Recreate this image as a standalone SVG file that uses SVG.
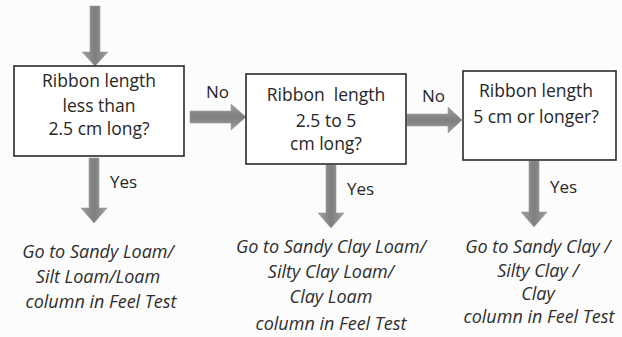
<svg xmlns="http://www.w3.org/2000/svg" width="622" height="337" viewBox="0 0 622 337">
<style>
  .box { fill: #ffffff; stroke: #2a2a2a; stroke-width: 1.6; }
  .t { font-family: "Open Sans", "Liberation Sans", sans-serif; font-size: 17.5px; fill: #262626; text-anchor: middle; }
  .lbl { font-family: "Open Sans", "Liberation Sans", sans-serif; font-size: 17px; fill: #262626; }
  .res { font-family: "Open Sans", "Liberation Sans", sans-serif; font-size: 18px; font-style: italic; fill: #2e2e2e; text-anchor: middle; }
  .arr { fill: url(#g); stroke: #9a9a9a; stroke-width: 0.6; }
  .arrh { fill: url(#gh); stroke: #9a9a9a; stroke-width: 0.6; }
</style>
<defs>
  <linearGradient id="g" x1="0" y1="0" x2="1" y2="0">
    <stop offset="0" stop-color="#a0a0a0"/>
    <stop offset="0.5" stop-color="#7e7e7e"/>
    <stop offset="1" stop-color="#a0a0a0"/>
  </linearGradient>
  <linearGradient id="gh" x1="0" y1="0" x2="0" y2="1">
    <stop offset="0" stop-color="#a0a0a0"/>
    <stop offset="0.5" stop-color="#7e7e7e"/>
    <stop offset="1" stop-color="#a0a0a0"/>
  </linearGradient>
</defs>
<rect width="622" height="337" fill="#fcfcfc"/>
<g id="connectors">
  <path class="arr" d="M90,6 H100 V52 H108 L95,66 L82,52 H90 Z"/>
  <path class="arrh" d="M190,111 H231 V104 L246,117 L231,130 V123 H190 Z"/>
  <path class="arrh" d="M407,114 H448 V107 L462,120 L448,133 V126 H407 Z"/>
  <path class="arr" d="M89,158 H99 V208 H107 L94,223 L81,208 H89 Z"/>
  <path class="arr" d="M326,165 H336 V213 H344 L331,228 L318,213 H326 Z"/>
  <path class="arr" d="M529,161 H539 V212 H547 L534,227 L521,212 H529 Z"/>
  <text class="lbl" x="206" y="98">No</text>
  <text class="lbl" x="422" y="102">No</text>
  <text class="lbl" x="110" y="188">Yes</text>
  <text class="lbl" x="347" y="195">Yes</text>
  <text class="lbl" x="550" y="193">Yes</text>
</g>
<g id="box1">
  <rect class="box" x="14" y="66" width="170" height="90"/>
  <text class="t" x="99" y="87">Ribbon length</text>
  <text class="t" x="99" y="112">less than</text>
  <text class="t" x="99" y="135">2.5 cm long?</text>
</g>
<g id="box2">
  <rect class="box" x="246" y="74" width="160" height="90"/>
  <text class="t" x="326" y="101" xml:space="preserve">Ribbon  length</text>
  <text class="t" x="326" y="127">2.5 to 5</text>
  <text class="t" x="326" y="150">cm long?</text>
</g>
<g id="box3">
  <rect class="box" x="463" y="71" width="153" height="89"/>
  <text class="t" x="536" y="97">Ribbon length</text>
  <text class="t" x="536" y="123">5 cm or longer?</text>
</g>
<g id="result1">
  <text class="res" x="98" y="258">Go to Sandy Loam/</text>
  <text class="res" x="98" y="283">Silt Loam/Loam</text>
  <text class="res" x="101" y="308">column in Feel Test</text>
</g>
<g id="result2">
  <text class="res" x="331" y="253">Go to Sandy Clay Loam/</text>
  <text class="res" x="331" y="278">Silty Clay Loam/</text>
  <text class="res" x="331" y="303">Clay Loam</text>
  <text class="res" x="331" y="330">column in Feel Test</text>
</g>
<g id="result3">
  <text class="res" x="538" y="253">Go to Sandy Clay /</text>
  <text class="res" x="538" y="277">Silty Clay /</text>
  <text class="res" x="538" y="300">Clay</text>
  <text class="res" x="539" y="323">column in Feel Test</text>
</g>
</svg>
